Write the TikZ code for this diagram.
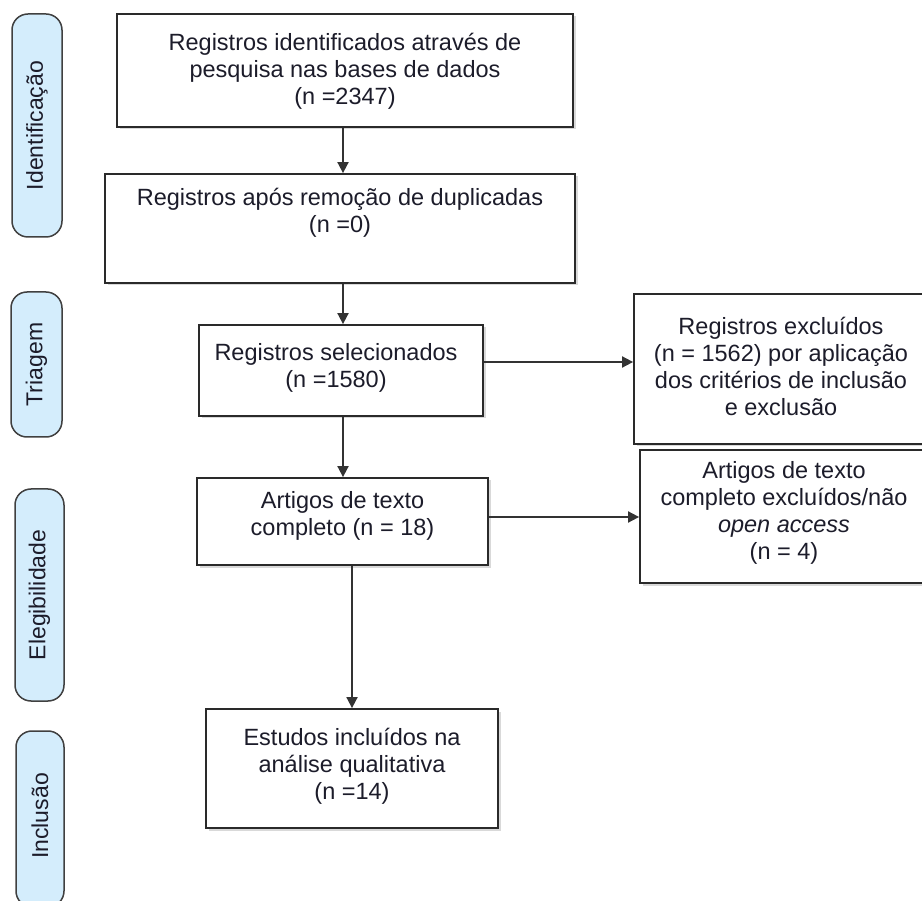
\documentclass[tikz,border=0pt]{standalone}
\usepackage{fontspec}
\setmainfont{Liberation Sans}
\usetikzlibrary{arrows.meta,shadows}
\definecolor{sidefill}{HTML}{D4EDFC}
\definecolor{linec}{HTML}{2A2A2A}
\definecolor{txtc}{HTML}{1C1C2A}
\tikzset{
  box/.style={draw=linec, line width=1.8pt, fill=white, rectangle, inner sep=0pt,
    drop shadow={shadow xshift=2.5pt, shadow yshift=-2.5pt, fill=black!25, opacity=0.6}},
  side/.style={draw=black!75, line width=1.5pt, fill=sidefill, rounded corners=16pt, inner sep=0pt},
  txt/.style={align=center, text=txtc, font=\fontsize{23.5pt}{27pt}\selectfont, inner sep=0pt},
  sidetxt/.style={text=txtc, font=\fontsize{23pt}{27pt}\selectfont, rotate=90, inner sep=0pt},
  arr/.style={draw=black!80, line width=1.8pt, -{Triangle[length=11pt,width=11pt]}}
}
\begin{document}
\begin{tikzpicture}[x=1pt,y=-1pt]
\useasboundingbox (0,0) rectangle (922,901);
% side labels
\node[side, minimum width=50pt, minimum height=223pt] (s1) at (37,125.5) {};
\node[sidetxt] (s1t) at (s1.center) {Identificação};
\node[side, minimum width=51pt, minimum height=145pt] (s2) at (36.5,364.5) {};
\node[sidetxt] (s2t) at (s2.center) {Triagem};
\node[side, minimum width=49pt, minimum height=212pt] (s3) at (39.5,595) {};
\node[sidetxt] (s3t) at (s3.center) {Elegibilidade};
\node[side, minimum width=48pt, minimum height=176pt] (s4) at (40,819) {};
\node[sidetxt] (s4t) at (40,816) {Inclusão};
% boxes
\node[box, minimum width=456pt, minimum height=113pt] (b1) at (345,70.5) {};
\node[txt] (b1t) at (345,71) {Registros identificados através de\\pesquisa nas bases de dados\\(n =2347)};
\node[box, minimum width=470pt, minimum height=109pt] (b2) at (340,228.5) {};
\node[txt] (b2t) at (340,213) {Registros após remoção de duplicadas\\(n =0)};
\node[box, minimum width=284pt, minimum height=91pt] (b3) at (341,370.5) {};
\node[txt] (b3t) at (336,368) {Registros selecionados\\(n =1580)};
\node[box, minimum width=294pt, minimum height=150pt] (b4) at (781,369) {};
\node[txt] (b4t) at (781,366) {Registros excluídos\\(n = 1562) por aplicação\\dos critérios de inclusão\\e exclusão};
\node[box, minimum width=291pt, minimum height=87pt] (b5) at (342.5,521.5) {};
\node[txt] (b5t) at (342.5,516) {Artigos de texto\\completo (n = 18)};
\node[box, minimum width=288pt, minimum height=133pt] (b6) at (784,516.5) {};
\node[txt] (b6t) at (784,513) {Artigos de texto\\completo excluídos/não\\\textit{open access}\\(n = 4)};
\node[box, minimum width=292pt, minimum height=119pt] (b7) at (352,768.5) {};
\node[txt] (b7t) at (352,766) {Estudos incluídos na\\análise qualitativa\\(n =14)};
% connectors
\draw[arr] (b1.south -| 343,0) -- (b2.north -| 343,0);
\draw[arr] (b2.south -| 343,0) -- (b3.north -| 343,0);
\draw[arr] (b3.south -| 343,0) -- (b5.north -| 343,0);
\draw[arr] (b5.south -| 352,0) -- (b7.north -| 352,0);
\draw[arr] (b3.east |- 0,362) -- (b4.west |- 0,362);
\draw[arr] (b5.east |- 0,517) -- (b6.west |- 0,517);
\end{tikzpicture}
\end{document}
